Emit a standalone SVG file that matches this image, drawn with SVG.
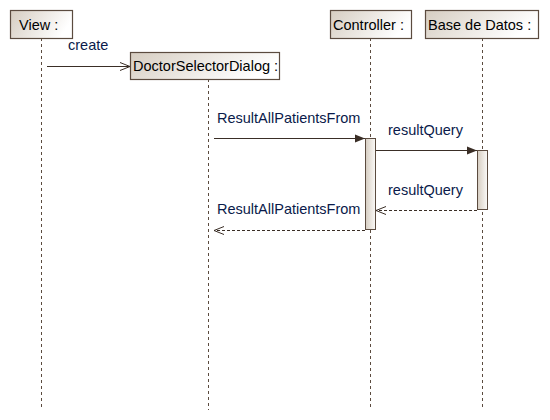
<svg xmlns="http://www.w3.org/2000/svg" width="550" height="420" viewBox="0 0 550 420">
<defs>
<linearGradient id="g" x1="0" y1="0" x2="1" y2="0.3">
<stop offset="0" stop-color="#d6cdc1"/>
<stop offset="1" stop-color="#ffffff"/>
</linearGradient>
<linearGradient id="ga" x1="0" y1="0" x2="1" y2="0">
<stop offset="0" stop-color="#d6cdc1"/>
<stop offset="1" stop-color="#fbfaf8"/>
</linearGradient>
<marker id="filled" viewBox="0 0 10 10" refX="10" refY="5" markerWidth="10" markerHeight="10" markerUnits="userSpaceOnUse" orient="auto">
<path d="M0,1 L10,5 L0,9 z" fill="#3a2e26"/>
</marker>
<marker id="open" viewBox="0 0 10 10" refX="10" refY="5" markerWidth="10" markerHeight="10" markerUnits="userSpaceOnUse" orient="auto">
<path d="M0,1 L10,5 L0,9" fill="none" stroke="#3a2e26" stroke-width="1"/>
</marker>
</defs>
<style>
.box{fill:url(#g);stroke:#5b4b3f;stroke-width:1.2}
.act{fill:url(#ga);stroke:#5b4b3f;stroke-width:1}
.life{stroke:#5b4b3f;stroke-width:1;stroke-dasharray:3,3;fill:none}
.msg{stroke:#3a2e26;stroke-width:1;fill:none}
.ret{stroke:#3a2e26;stroke-width:1;fill:none;stroke-dasharray:3,2}
.t{font-family:"Liberation Sans",Arial,sans-serif;font-size:14.5px;fill:#000}
.m{font-family:"Liberation Sans",Arial,sans-serif;font-size:14.5px;fill:#0a1a4a}
</style>
<g id="lifelines">
<line class="life" x1="41.5" y1="38" x2="41.5" y2="410"/>
<line class="life" x1="208.5" y1="79" x2="208.5" y2="410"/>
<line class="life" x1="370.5" y1="38" x2="370.5" y2="410"/>
<line class="life" x1="482.5" y1="38" x2="482.5" y2="410"/>
</g>
<g id="view">
<rect class="box" x="10.5" y="10.5" width="62" height="28"/>
<text class="t" x="19" y="29.5">View :</text>
</g>
<g id="doctorSelectorDialog">
<rect class="box" x="130.5" y="52.5" width="149" height="27"/>
<text class="t" x="133" y="71">DoctorSelectorDialog :</text>
</g>
<g id="controller">
<rect class="box" x="330.5" y="10.5" width="81" height="28"/>
<text class="t" x="333" y="29.5">Controller :</text>
</g>
<g id="baseDeDatos">
<rect class="box" x="425.5" y="10.5" width="113" height="28"/>
<text class="t" x="428" y="29.5">Base de Datos :</text>
</g>
<g id="activations">
<rect class="act" x="365.5" y="138.5" width="10" height="91"/>
<rect class="act" x="477.5" y="150.5" width="10" height="59"/>
</g>
<g id="connectors">
<line class="msg" x1="47" y1="66.5" x2="130" y2="66.5" marker-end="url(#open)"/>
<text class="m" x="68" y="50">create</text>
<line class="msg" x1="214" y1="138.5" x2="365" y2="138.5" marker-end="url(#filled)"/>
<text class="m" x="217" y="123">ResultAllPatientsFrom</text>
<line class="msg" x1="376" y1="150.5" x2="477" y2="150.5" marker-end="url(#filled)"/>
<text class="m" x="388" y="135">resultQuery</text>
<line class="ret" x1="477" y1="210.5" x2="376" y2="210.5" marker-end="url(#open)"/>
<text class="m" x="388" y="195">resultQuery</text>
<line class="ret" x1="365" y1="230.5" x2="214" y2="230.5" marker-end="url(#open)"/>
<text class="m" x="217" y="214">ResultAllPatientsFrom</text>
</g>
</svg>
